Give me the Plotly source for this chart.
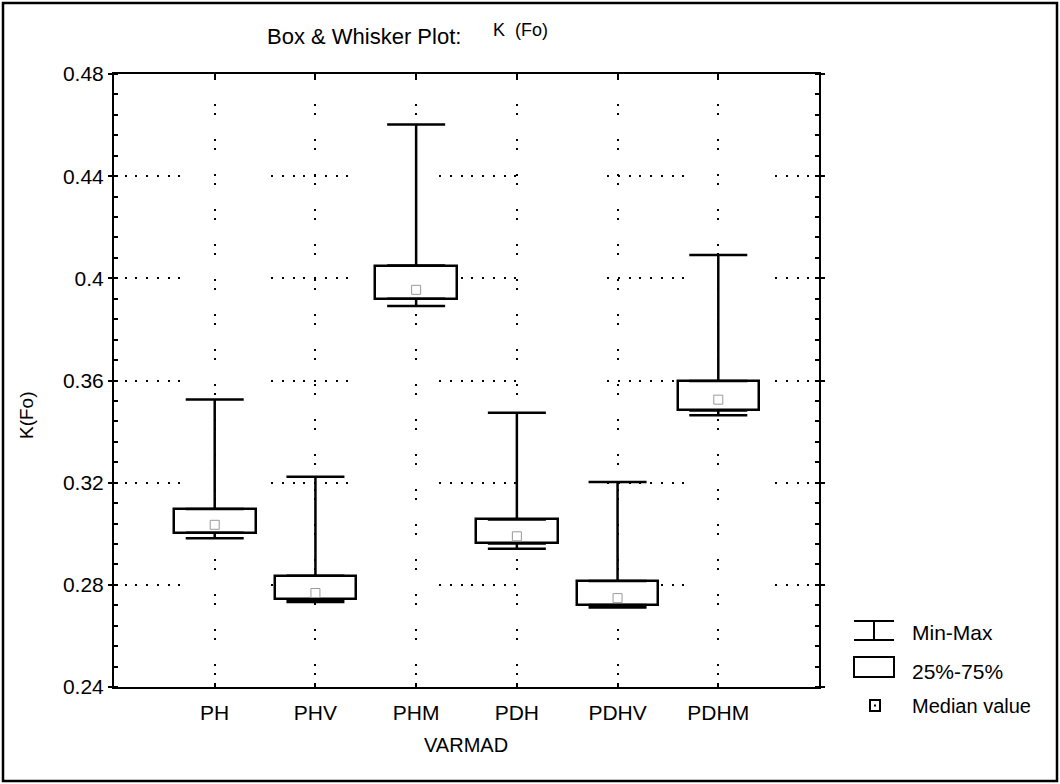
import plotly.graph_objects as go
import numpy as np

# ---------------- data ----------------
categories = ["PH", "PHV", "PHM", "PDH", "PDHV", "PDHM"]
mins    = [0.2982, 0.2733, 0.3892, 0.2941, 0.2711, 0.3464]
q1      = [0.3004, 0.2743, 0.3920, 0.2962, 0.2721, 0.3483]
medians = [0.3035, 0.2768, 0.3955, 0.2990, 0.2748, 0.3525]
q3      = [0.3097, 0.2836, 0.4050, 0.3056, 0.2815, 0.3598]
maxs    = [0.3526, 0.3223, 0.4602, 0.3474, 0.3203, 0.4091]
y_ticks = [0.24, 0.28, 0.32, 0.36, 0.40, 0.44, 0.48]
y_ticklabels = ["0.24", "0.28", "0.32", "0.36", "0.4", "0.44", "0.48"]

xs = np.arange(1, len(categories) + 1)
q1a, q3a = np.array(q1), np.array(q3)
mina, maxa = np.array(mins), np.array(maxs)

# ---------------- layout geometry ----------------
W, H = 1060, 784
L, R, T, B = 114, 819, 74, 687
FONT = "Liberation Sans, Arial, sans-serif"

# dotted grid styles (groups of dots as in the original rendering)
HGRID_DASH = ",".join(["2px,8.7px"] * 6 + ["2px,91.1px", "2px,8.7px"])
VGRID_DASH = "0px,4px,2px,24px,2px,3px"


def px(x):
    return (x - L) / (R - L)


def py(y):
    return (B - y) / (B - T)


fig = go.Figure()

# boxes (25%-75%)
fig.add_trace(go.Bar(
    x=xs, y=q3a - q1a, base=q1a, width=0.81,
    marker=dict(color="white", line=dict(color="black", width=2.5)),
    hoverinfo="skip", showlegend=False,
))
# upper whiskers
fig.add_trace(go.Scatter(
    x=xs, y=q3a, mode="markers", marker=dict(size=1, opacity=0),
    error_y=dict(type="data", symmetric=False, array=maxa - q3a,
                 arrayminus=np.zeros(len(xs)), width=29, thickness=2.5,
                 color="black"),
    hoverinfo="skip", showlegend=False,
))
# lower whiskers
fig.add_trace(go.Scatter(
    x=xs, y=q1a, mode="markers", marker=dict(size=1, opacity=0),
    error_y=dict(type="data", symmetric=False, array=np.zeros(len(xs)),
                 arrayminus=q1a - mina, width=29, thickness=2.5,
                 color="black"),
    hoverinfo="skip", showlegend=False,
))
# medians
fig.add_trace(go.Scatter(
    x=xs, y=medians, mode="markers",
    marker=dict(symbol="square-open", size=9, color="#9a9a9a",
                line=dict(width=1, color="#9a9a9a")),
    hoverinfo="skip", showlegend=False,
))

shapes = []
annotations = []

# outer frame
shapes.append(dict(type="rect", xref="paper", yref="paper",
                   x0=px(3), x1=px(1057), y0=py(781), y1=py(3),
                   line=dict(color="black", width=2.5), layer="below"))

# legend icons
shapes += [
    dict(type="line", xref="paper", yref="paper", x0=px(854), x1=px(894),
         y0=py(621), y1=py(621), line=dict(color="black", width=2)),
    dict(type="line", xref="paper", yref="paper", x0=px(854), x1=px(894),
         y0=py(640), y1=py(640), line=dict(color="black", width=2)),
    dict(type="line", xref="paper", yref="paper", x0=px(874), x1=px(874),
         y0=py(621), y1=py(640), line=dict(color="black", width=2)),
    dict(type="rect", xref="paper", yref="paper", x0=px(854), x1=px(894),
         y0=py(677), y1=py(657), line=dict(color="black", width=2)),
    dict(type="rect", xref="paper", yref="paper", x0=px(870), x1=px(880),
         y0=py(711), y1=py(700), line=dict(color="black", width=2)),
    dict(type="rect", xref="paper", yref="paper", x0=px(874), x1=px(876),
         y0=py(706.5), y1=py(704.5), line=dict(color="black", width=0),
         fillcolor="black"),
]


def label(text, x, y, size, xanchor="left", angle=0):
    annotations.append(dict(text=text, x=px(x), y=py(y), xref="paper",
                            yref="paper", xanchor=xanchor, yanchor="middle",
                            showarrow=False, textangle=angle,
                            font=dict(family=FONT, size=size, color="black")))


label("Min-Max", 910, 632, 21)
label("25%-75%", 910, 671, 21)
label("Median value", 910, 706, 20)
label("Box &amp; Whisker Plot:", 364, 37, 22, xanchor="center")
label("K  (Fo)", 491, 30, 18)
label("VARMAD", 466, 745, 20, xanchor="center")
label("K(Fo)", 26, 415, 19, xanchor="center", angle=-90)

fig.update_layout(
    width=W, height=H,
    margin=dict(l=L, r=W - R, t=T, b=H - B, pad=0),
    paper_bgcolor="white", plot_bgcolor="white",
    font=dict(family=FONT, size=20, color="black"),
    shapes=shapes, annotations=annotations,
    showlegend=False, bargap=0,
)
fig.update_xaxes(
    range=[0, 7], tickmode="array", tickvals=xs, ticktext=categories,
    showline=True, linecolor="black", linewidth=2, mirror="ticks",
    ticks="inside", ticklen=4, tickwidth=2, tickcolor="black",
    showgrid=True, gridcolor="black", gridwidth=2,
    griddash=VGRID_DASH, zeroline=False,
    tickfont=dict(family=FONT, size=21), ticklabelstandoff=6,
)
fig.update_yaxes(
    range=[0.24, 0.48], tickmode="array", tickvals=y_ticks,
    ticktext=y_ticklabels,
    showline=True, linecolor="black", linewidth=2, mirror="ticks",
    ticks="outside", ticklen=4, tickwidth=2, tickcolor="black",
    showgrid=True, gridcolor="black", gridwidth=2, griddash=HGRID_DASH,
    zeroline=False, tickfont=dict(family=FONT, size=21),
    minor=dict(dtick=0.008, tick0=0.24, ticks="inside", ticklen=4,
               tickwidth=2, tickcolor="black", showgrid=False),
)

fig.write_html("out.html")
